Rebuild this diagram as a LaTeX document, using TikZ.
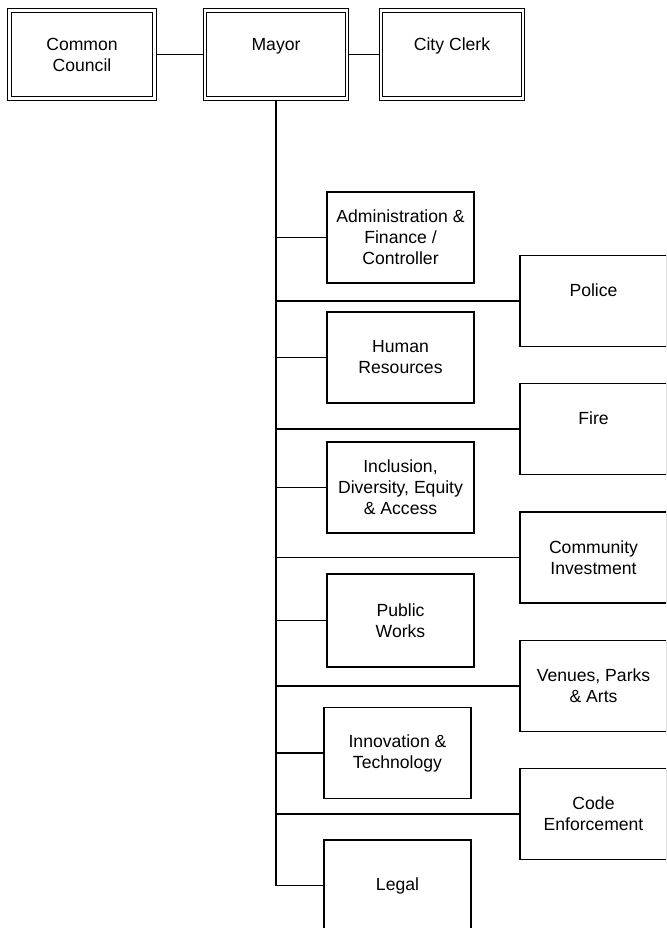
\documentclass[tikz,border=0pt]{standalone}
\usepackage{fontspec}
\setmainfont{Liberation Sans}
\begin{document}
\begin{tikzpicture}[x=1pt,y=-1pt,
  font=\fontsize{17.6pt}{21pt}\selectfont,
  unit/.style={draw, rectangle, line width=1.2pt, fill=white, inner sep=0pt,
    align=center, minimum width=147pt, minimum height=91pt},
  topunit/.style={draw, rectangle, double, double distance=2.6pt, line width=1.1pt,
    fill=white, inner sep=0pt, outer sep=2.4pt, align=center, minimum height=88pt},
  link/.style={line width=1.2pt},
  trunk/.style={line width=2.7pt}]
\useasboundingbox (0,0) rectangle (666,928);
\clip (0,0) rectangle (666,928);

% executive row
\node[topunit, minimum width=145pt] (council) at (82,54.5) {Common\\Council};
\node[topunit, minimum width=142pt] (mayor) at (276,54.5) {Mayor\\\mbox{}};
\node[topunit, minimum width=142pt] (clerk) at (452,54.5) {City Clerk\\\mbox{}};
\draw[link] (council.east) -- (mayor.west);
\draw[link] (mayor.east) -- (clerk.west);

% departments, left column
\node[unit] (admin) at (400.5,237.5) {Administration \&\\Finance /\\Controller};
\node[unit] (hr) at (400.5,357.5) {Human\\Resources};
\node[unit] (idea) at (400.5,487.5) {Inclusion,\\Diversity, Equity\\\& Access};
\node[unit, minimum height=93pt] (works) at (400.5,620.5) {Public\\Works};
\node[unit] (tech) at (397.5,753) {Innovation \&\\Technology};
\node[unit] (legal) at (397.5,885.5) {Legal};

% departments, right column
\node[unit] (police) at (593.5,301) {Police\\\mbox{}};
\node[unit] (fire) at (593.5,429) {Fire\\\mbox{}};
\node[unit] (invest) at (593.5,557.5) {Community\\Investment};
\node[unit] (venues) at (593.5,686) {Venues, Parks\\\& Arts};
\node[unit] (code) at (593.5,814) {Code\\Enforcement};

% reporting trunk
\draw[trunk] (mayor.south) -- (mayor.south |- invest.west);
\draw[link] (mayor.south |- invest.west) -- (mayor.south |- legal.west);

% branches
\foreach \d in {admin,hr,idea,works,tech,legal,police,fire,invest,venues,code}
  \draw[link] (mayor.south |- \d.west) -- (\d.west);
\end{tikzpicture}
\end{document}
